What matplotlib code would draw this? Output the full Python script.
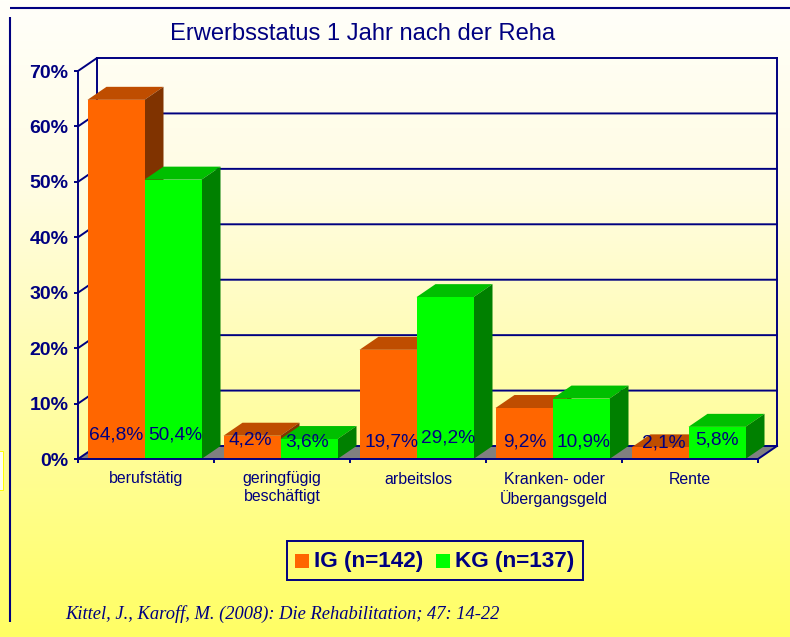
import numpy as np
import matplotlib
matplotlib.use('Agg')
from matplotlib import pyplot as plt
from matplotlib.patches import Polygon, Rectangle

plt.rcParams['font.family'] = ['Liberation Sans', 'DejaVu Sans']

categories = ['berufstätig', 'geringfügig\nbeschäftigt', 'arbeitslos', 'Kranken- oder\nÜbergangsgeld', 'Rente']
ig_values = [64.8, 4.2, 19.7, 9.2, 2.1]
kg_values = [50.4, 3.6, 29.2, 10.9, 5.8]
ig_labels = ['64,8%', '4,2%', '19,7%', '9,2%', '2,1%']
kg_labels = ['50,4%', '3,6%', '29,2%', '10,9%', '5,8%']
y_ticks = [0, 10, 20, 30, 40, 50, 60, 70]
y_ticklabels = ['0%', '10%', '20%', '30%', '40%', '50%', '60%', '70%']

W, H = 790, 637
NAVY = '#000080'
DX = 19 / 136.0   # depth in category units
DY = 130 / 55.43  # depth in percent
BAR_W = 57 / 136.0
BAR_OFF = 9.5 / 136.0

fig = plt.figure(figsize=(W / 100, H / 100), dpi=100)

# background and decoration, in pixels
bg = fig.add_axes([0, 0, 1, 1], zorder=0)
t = np.linspace(0, 1, 256)
r = np.interp(t, [0, 0.3, 1], [255, 255, 255])
g = np.interp(t, [0, 0.3, 1], [255, 252, 255])
b = np.interp(t, [0, 0.3, 1], [250, 226, 100])
grad = np.dstack((r, g, b)).reshape(256, 1, 3) / 255
bg.imshow(grad, extent=(0, W, H, 0), aspect='auto', interpolation='bilinear')
bg.set_xlim(0, W)
bg.set_ylim(H, 0)
bg.axis('off')
bg.plot([10, W], [8, 8], color=NAVY, lw=1.5, solid_capstyle='butt')
bg.plot([10, 10], [17, 622], color=NAVY, lw=1.5, solid_capstyle='butt')
bg.add_patch(Rectangle((-2, 451), 5, 39, fc='#FFFFF0', ec='#FFFF00', lw=0.7))
bg.text(363, 34, 'Erwerbsstatus 1 Jahr nach der Reha', color=NAVY, fontsize=17.1, ha='center', va='center')
bg.text(65, 614.5, 'Kittel, J., Karoff, M. (2008): Die Rehabilitation; 47: 14-22', color=NAVY,
        fontsize=13.3, style='italic', family='Liberation Serif', ha='left', va='center')

# legend
bg.add_patch(Rectangle((287, 541), 296, 39, fc='none', ec=NAVY, lw=1.4))
bg.add_patch(Rectangle((295, 554), 14, 14, fc='#FF6600', ec='none'))
bg.add_patch(Rectangle((436, 554), 14, 14, fc='#00FF00', ec='none'))
bg.text(314, 561, 'IG (n=142)', color=NAVY, fontsize=16.2, weight='bold', ha='left', va='center')
bg.text(455, 561, 'KG (n=137)', color=NAVY, fontsize=16.2, weight='bold', ha='left', va='center')

# chart axes: front plane of the 3d box
ax = fig.add_axes([78 / W, 1 - 459 / H, 680 / W, 388 / H], zorder=1)
ax.patch.set_visible(False)
ax.set_xlim(0, 5)
ax.set_ylim(0, 70)
for s in ['top', 'right']:
    ax.spines[s].set_visible(False)
for s in ['left', 'bottom']:
    ax.spines[s].set_color(NAVY)
    ax.spines[s].set_linewidth(1.4)
    ax.spines[s].set_zorder(6)

ax.set_yticks(y_ticks)
ax.set_yticklabels(y_ticklabels, fontsize=14, weight='bold', color=NAVY)
ax.tick_params(axis='y', length=3, width=1.4, color=NAVY, pad=4)
ax.set_xticks(range(6))
ax.set_xticklabels([])
ax.tick_params(axis='x', which='major', length=3, width=1.4, color=NAVY)
ax.set_xticks(np.arange(5) + 0.5, minor=True)
ax.set_xticklabels(categories, minor=True, fontsize=11.4, color=NAVY, linespacing=1.25, va='top')
ax.tick_params(axis='x', which='minor', length=0, pad=9)

# floor, back wall
ax.add_patch(Polygon([(0, 0), (DX, DY), (5 + DX, DY), (5, 0)], fc='#808080', ec='none', clip_on=False, zorder=1))
for v in y_ticks:
    ax.plot([0, DX, 5 + DX], [v, v + DY, v + DY], color=NAVY, lw=1.4, clip_on=False, zorder=2)
ax.plot([DX, DX], [DY, 70 + DY], color=NAVY, lw=1.4, clip_on=False, zorder=2)
ax.plot([5 + DX, 5 + DX], [DY, 70 + DY], color=NAVY, lw=1.4, clip_on=False, zorder=2)
ax.plot([5, 5 + DX], [0, DY], color=NAVY, lw=1.4, clip_on=False, zorder=2)


def bar3d(x0, v, front, top, side, z):
    x1 = x0 + BAR_W
    ax.add_patch(Polygon([(x0, v), (x0 + DX, v + DY), (x1 + DX, v + DY), (x1, v)],
                         fc=top, ec='none', clip_on=False, zorder=z))
    ax.add_patch(Polygon([(x1, 0), (x1 + DX, DY), (x1 + DX, v + DY), (x1, v)],
                         fc=side, ec='none', clip_on=False, zorder=z))
    ax.bar(x0, v, BAR_W, align='edge', color=front, zorder=z)


for i in range(5):
    bar3d(i + BAR_OFF, ig_values[i], '#FF6600', '#BF4D00', '#803300', 3 + i * 0.1)
    bar3d(i + BAR_OFF + BAR_W, kg_values[i], '#00FF00', '#00BF00', '#008000', 3.05 + i * 0.1)

# data labels sit near the floor, not at the bar tops
ig_label_y = [4.3, 3.4, 3.1, 3.1, 2.8]
kg_label_y = [4.3, 3.1, 3.8, 3.1, 3.4]
ig_label_dx = [0, -2, 3, 1, 4]
kg_label_dx = [2, -2, 3, 2, 0]
for i in range(5):
    ax.text(i + BAR_OFF + BAR_W / 2 + ig_label_dx[i] / 136.0, ig_label_y[i], ig_labels[i], color=NAVY,
            fontsize=13.8, ha='center', va='center', zorder=7)
    ax.text(i + BAR_OFF + BAR_W * 1.5 + kg_label_dx[i] / 136.0, kg_label_y[i], kg_labels[i], color=NAVY,
            fontsize=13.8, ha='center', va='center', zorder=7)

plt.savefig('out.png', dpi=100)
plt.close()
